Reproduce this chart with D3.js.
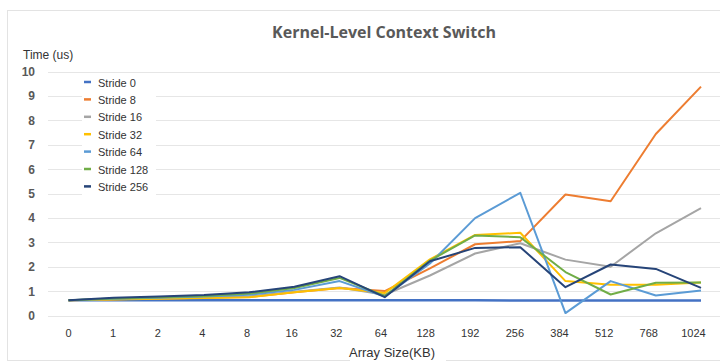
<!DOCTYPE html>
<html>
<head>
<meta charset="utf-8">
<script src="https://cdn.jsdelivr.net/npm/d3@7"></script>
<style>
  body { margin: 0; background: #fff; }
  svg { display: block; font-family: "Liberation Sans", Arial, sans-serif; }
</style>
</head>
<body>
<svg id="chart" width="720" height="364"></svg>
<script>
// array sizes (KB) on the x axis
const sizes = ["0","1","2","4","8","16","32","64","128","192","256","384","512","768","1024"];
const strideNames = ["Stride 0","Stride 8","Stride 16","Stride 32","Stride 64","Stride 128","Stride 256"];
const strideColors = ["#4472C4","#ED7D31","#A5A5A5","#FFC000","#5B9BD5","#70AD47","#264478"];

// time in us
const stride0   = [0.62,0.62,0.62,0.62,0.62,0.62,0.62,0.62,0.62,0.62,0.61,0.61,0.61,0.61,0.61];
const stride8   = [0.62,0.67,0.70,0.73,0.76,0.95,1.13,1.00,1.93,2.92,3.05,4.96,4.68,7.44,9.38];
const stride16  = [0.62,0.67,0.70,0.73,0.78,0.97,1.15,0.85,1.64,2.54,2.96,2.29,2.00,3.37,4.40];
const stride32  = [0.62,0.66,0.69,0.72,0.75,0.95,1.13,0.92,2.30,3.30,3.39,1.41,1.26,1.26,1.35];
const stride64  = [0.62,0.69,0.73,0.78,0.85,1.05,1.41,0.78,2.13,3.99,5.03,0.10,1.41,0.82,1.02];
const stride128 = [0.62,0.70,0.75,0.80,0.90,1.13,1.54,0.80,2.25,3.28,3.21,1.78,0.86,1.34,1.35];
const stride256 = [0.62,0.73,0.78,0.84,0.95,1.18,1.61,0.75,2.22,2.77,2.80,1.16,2.09,1.91,1.13];
const yTicks = [0,1,2,3,4,5,6,7,8,9,10];

const allSeries = [stride0, stride8, stride16, stride32, stride64, stride128, stride256];

const svg = d3.select("#chart");
const m = { left: 46, right: 2, top: 71, bottom: 49 };
const W = 720, H = 364;

// chart frame
svg.append("rect").attr("x", 7.5).attr("y", 10.5).attr("width", 730).attr("height", 350)
  .attr("fill", "#fff").attr("stroke", "#e3e3e3");

const x = d3.scalePoint().domain(sizes).range([68.5, 701]);
const y = d3.scaleLinear().domain([0, 10]).range([315.5, 71.5]);

// grid
svg.append("g").selectAll("line").data(yTicks).enter().append("line")
  .attr("x1", 48).attr("x2", 720)
  .attr("y1", d => Math.round(y(d)) + 0.5).attr("y2", d => Math.round(y(d)) + 0.5)
  .attr("stroke", "#e6e6e6").attr("stroke-width", 1);

// y labels
svg.append("g").selectAll("text").data(yTicks).enter().append("text")
  .attr("x", 35).attr("y", d => y(d) + 4.5)
  .attr("text-anchor", "end").attr("font-size", 12).attr("font-weight", "bold")
  .attr("fill", "#595959").text(d => d);

// x labels
svg.append("g").selectAll("text").data(sizes).enter().append("text")
  .attr("x", d => x(d) - (x(d) - 68) * 0.012).attr("y", 337)
  .attr("text-anchor", "middle").attr("font-size", 11).attr("fill", "#333")
  .text(d => d);

// lines
const line = d3.line().x((d, i) => x(sizes[i])).y(d => y(d));
svg.append("g").selectAll("path").data(allSeries).enter().append("path")
  .attr("d", line).attr("fill", "none")
  .attr("stroke", (d, i) => strideColors[i])
  .attr("stroke-width", (d, i) => i === 0 ? 2.5 : 2)
  .attr("stroke-linejoin", "round");

// legend
const leg = svg.append("g");
leg.append("rect").attr("x", 82).attr("y", 73).attr("width", 74).attr("height", 122).attr("fill", "#fff");
const items = leg.selectAll("g").data(strideNames).enter().append("g")
  .attr("transform", (d, i) => `translate(0,${83 + i * 17.4})`);
items.append("line").attr("x1", 84).attr("x2", 91).attr("y1", -1).attr("y2", -1)
  .attr("stroke", (d, i) => strideColors[i]).attr("stroke-width", 2.5);
items.append("text").attr("x", 98).attr("y", 3.5).attr("font-size", 11).attr("fill", "#333")
  .text(d => d);

// titles
svg.append("text").attr("x", 384).attr("y", 38).attr("text-anchor", "middle")
  .attr("font-family", "'Open Sans', sans-serif").attr("font-weight", "bold")
  .attr("font-size", 16).attr("fill", "#595959").text("Kernel-Level Context Switch");
svg.append("text").attr("x", 23).attr("y", 59).attr("font-size", 12).attr("fill", "#333")
  .text("Time (us)");
svg.append("rect").attr("x", 350).attr("y", 343).attr("width", 96).attr("height", 18).attr("fill", "#fff");
svg.append("text").attr("x", 392).attr("y", 357).attr("text-anchor", "middle")
  .attr("font-size", 13).attr("fill", "#333").text("Array Size(KB)");
</script>
</body>
</html>
